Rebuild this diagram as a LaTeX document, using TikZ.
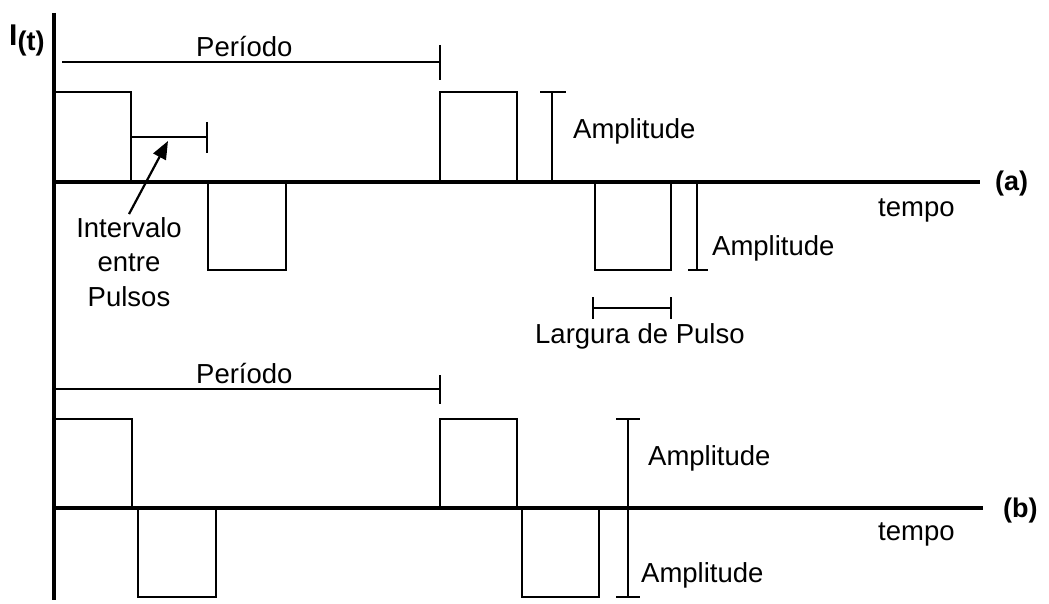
\documentclass[tikz,border=0pt]{standalone}
\usepackage{fontspec}
\setmainfont{Liberation Sans}
\usetikzlibrary{arrows.meta}
\begin{document}
\begin{tikzpicture}[x=1pt,y=-1pt,
  axisline/.style={line width=3.2pt},
  wave/.style={line width=2.8pt, line join=miter},
  dimbar/.style={line width=2.8pt},
  lbl/.style={font=\fontsize{27.5}{34.5}\selectfont, inner sep=0pt, anchor=base west},
  tag/.style={font=\fontsize{27}{30}\selectfont\bfseries, inner sep=0pt, anchor=base west},
  pointer/.style={line width=2.2pt, -{Triangle[length=18pt,width=14pt]}}]
\useasboundingbox[fill=white] (0,0) rectangle (1049,604);

% current axis and its label
\draw[axisline] (54,13) -- (54,600);
\node[inner sep=0pt, anchor=base west] (ilabel) at (9,46)
  {\fontsize{30}{30}\selectfont\bfseries I\raisebox{-5pt}{\fontsize{27}{27}\selectfont(t)}};

% ---------------- (a) ----------------
\draw[axisline] (54,182) -- (980,182);
\node[tag] (taga) at (995,191) {(a)};
\node[lbl] (tempoa) at (878,216) {tempo};

% period
\draw[dimbar] (62,62) -- (440,62);
\draw[dimbar] (440,45) -- (440,80);
\node[lbl] (pera) at (196,57) {Período};

% pulses
\draw[wave] (54,92) -- (131,92) -- (131,182);
\draw[wave] (208,182) -- (208,270) -- (286,270) -- (286,182);
\draw[wave] (440,182) -- (440,92) -- (517,92) -- (517,182);
\draw[wave] (595,182) -- (595,270) -- (671,270) -- (671,182);

% interval between pulses
\draw[dimbar] (131,137) -- (207,137);
\draw[dimbar] (207,122) -- (207,153);
\coordinate (itip) at (168,141);
\node[font=\fontsize{27.5}{34.5}\selectfont, inner sep=0pt, outer sep=3pt, align=center, anchor=base]
  (intervalo) at (129,306) {Intervalo\\entre\\Pulsos};
\draw[pointer] (intervalo.north) -- (itip);

% amplitudes
\draw[dimbar] (552,92) -- (552,182);
\draw[dimbar] (540,92) -- (566,92);
\node[lbl] (ampa1) at (573,139) {Amplitude};
\draw[dimbar] (697,182) -- (697,270);
\draw[dimbar] (688,270) -- (708,270);
\node[lbl] (ampa2) at (712,255) {Amplitude};

% pulse width
\draw[dimbar] (593,308) -- (671,308);
\draw[dimbar] (593,297) -- (593,319);
\draw[dimbar] (671,297) -- (671,319);
\node[lbl] (largura) at (535,343) {Largura de Pulso};

% ---------------- (b) ----------------
\draw[axisline] (54,508) -- (983,508);
\node[tag] (tagb) at (1003,517) {(b)};
\node[lbl] (tempob) at (878,540) {tempo};

% period
\draw[dimbar] (54,389) -- (440,389);
\draw[dimbar] (440,375) -- (440,404);
\node[lbl] (perb) at (196,383) {Período};

% pulses
\draw[wave] (54,419) -- (132,419) -- (132,508);
\draw[wave] (138,508) -- (138,597) -- (216,597) -- (216,508);
\draw[wave] (440,508) -- (440,419) -- (517,419) -- (517,508);
\draw[wave] (522,508) -- (522,597) -- (599,597) -- (599,508);

% amplitude
\draw[dimbar] (628,419) -- (628,597);
\draw[dimbar] (616,419) -- (640,419);
\draw[dimbar] (616,597) -- (640,597);
\node[lbl] (ampb1) at (648,465) {Amplitude};
\node[lbl] (ampb2) at (641,582) {Amplitude};
\end{tikzpicture}
\end{document}
